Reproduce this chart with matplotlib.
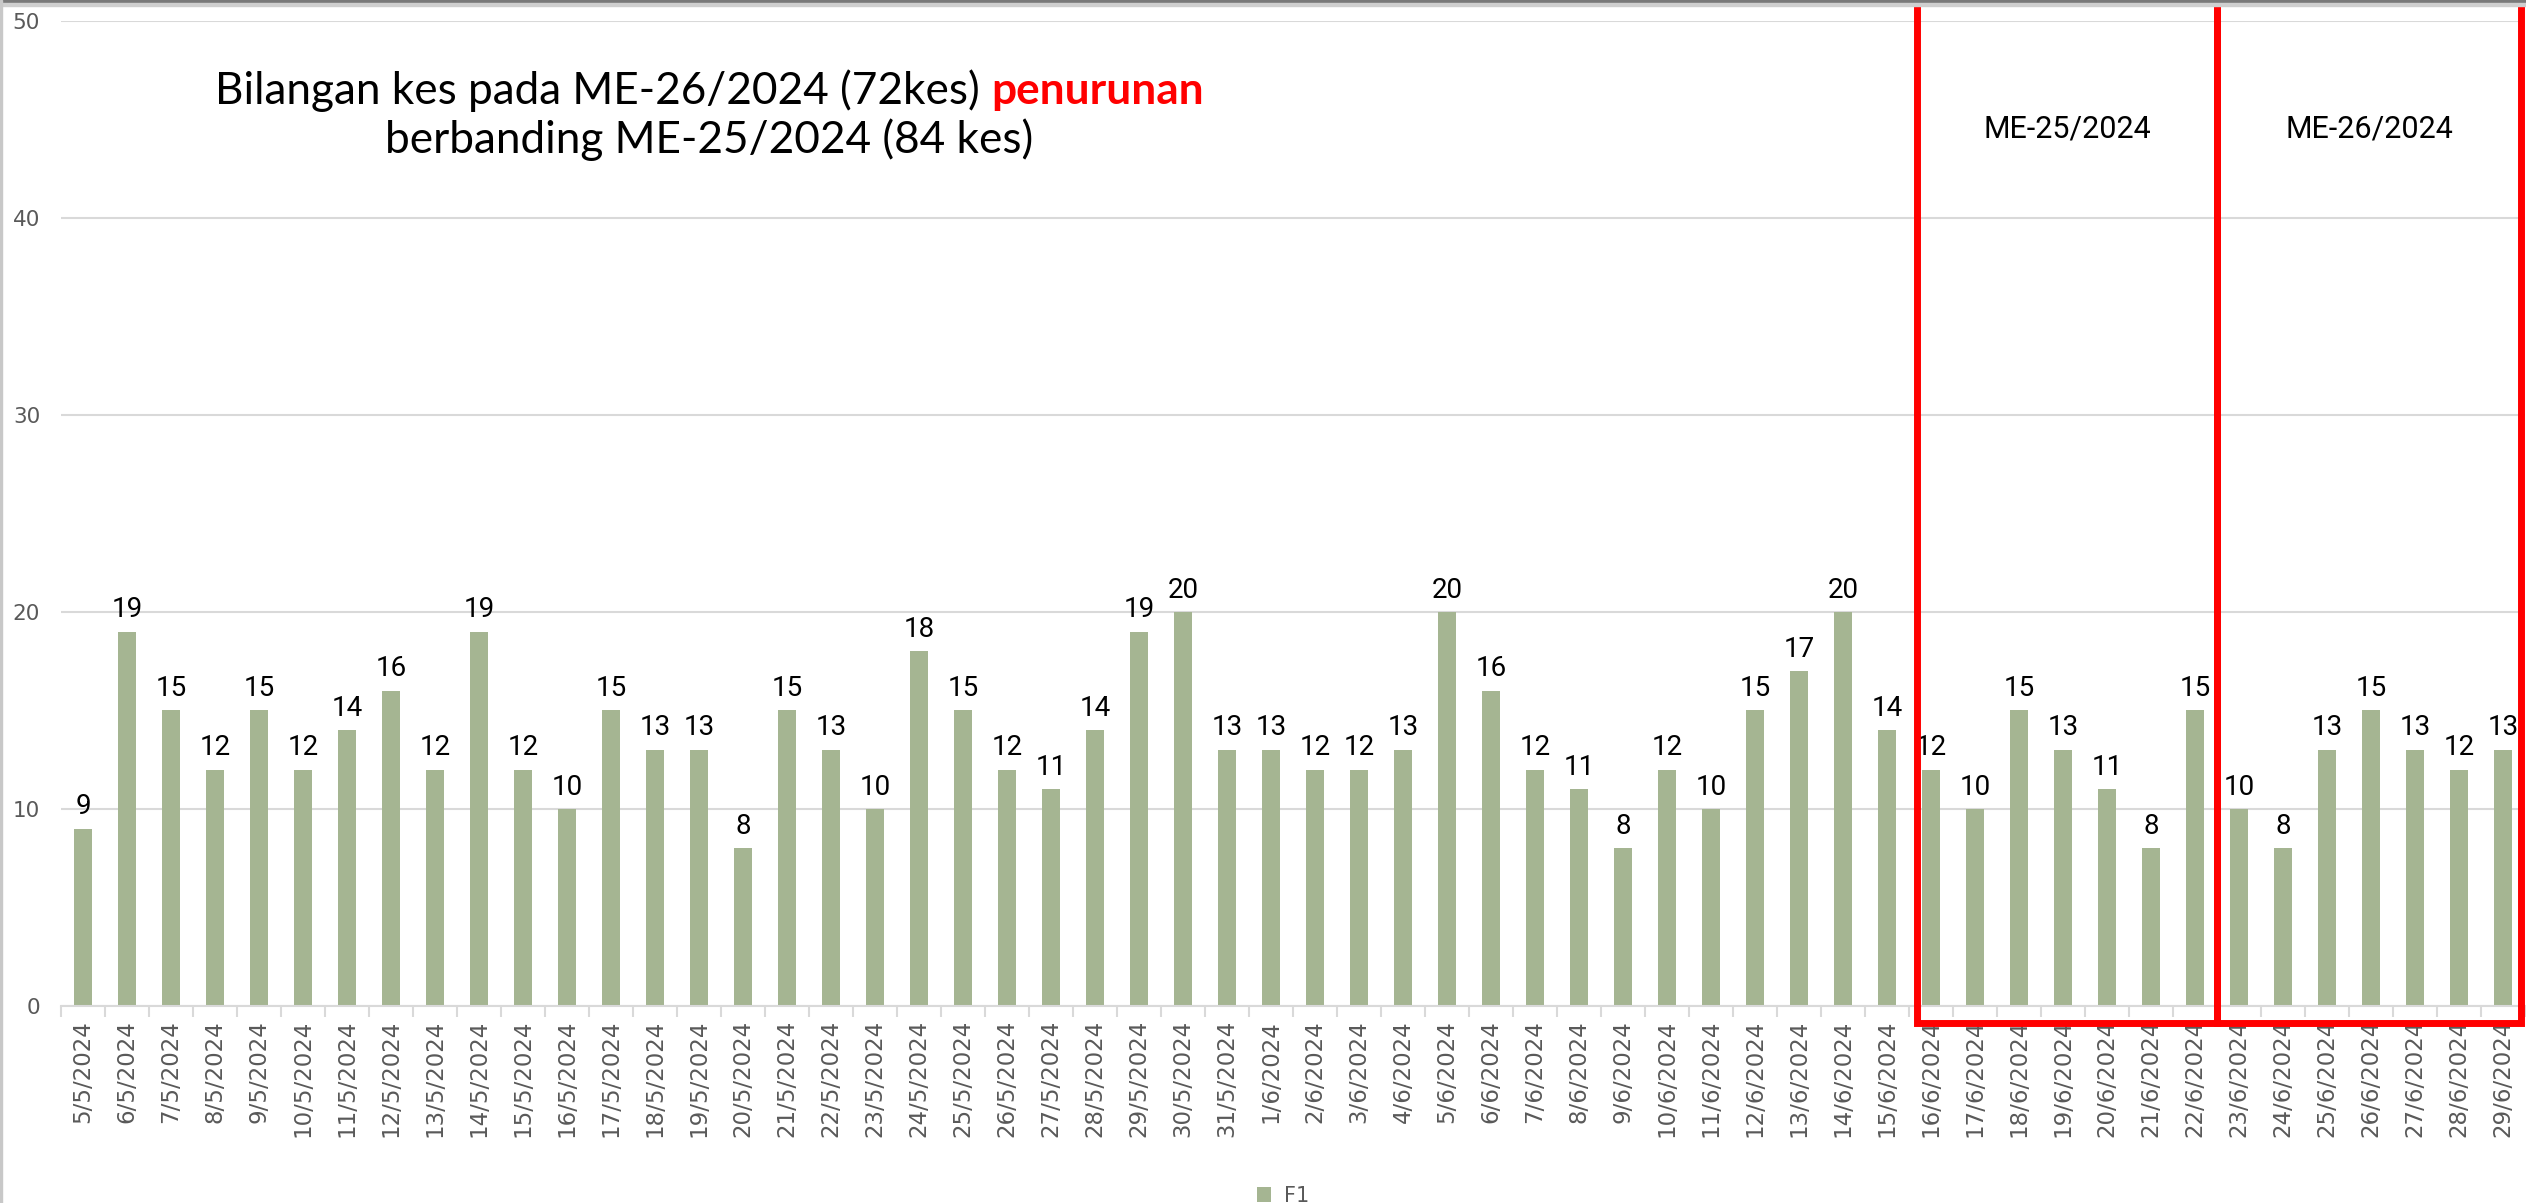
import numpy as np
import matplotlib.pyplot as plt
from matplotlib.patches import Rectangle

W, H = 2526, 1203

# daily case counts
dates = ["5/5/2024", "6/5/2024", "7/5/2024", "8/5/2024", "9/5/2024", "10/5/2024",
         "11/5/2024", "12/5/2024", "13/5/2024", "14/5/2024", "15/5/2024", "16/5/2024",
         "17/5/2024", "18/5/2024", "19/5/2024", "20/5/2024", "21/5/2024", "22/5/2024",
         "23/5/2024", "24/5/2024", "25/5/2024", "26/5/2024", "27/5/2024", "28/5/2024",
         "29/5/2024", "30/5/2024", "31/5/2024", "1/6/2024", "2/6/2024", "3/6/2024",
         "4/6/2024", "5/6/2024", "6/6/2024", "7/6/2024", "8/6/2024", "9/6/2024",
         "10/6/2024", "11/6/2024", "12/6/2024", "13/6/2024", "14/6/2024", "15/6/2024",
         "16/6/2024", "17/6/2024", "18/6/2024", "19/6/2024", "20/6/2024", "21/6/2024",
         "22/6/2024", "23/6/2024", "24/6/2024", "25/6/2024", "26/6/2024", "27/6/2024",
         "28/6/2024", "29/6/2024"]
cases = [9, 19, 15, 12, 15, 12, 14, 16, 12, 19, 12, 10, 15, 13, 13, 8, 15, 13,
         10, 18, 15, 12, 11, 14, 19, 20, 13, 13, 12, 12, 13, 20, 16, 12, 11, 8,
         12, 10, 15, 17, 20, 14, 12, 10, 15, 13, 11, 8, 15, 10, 8, 13, 15, 13,
         12, 13]
series_name = "F1"

week_names = ["ME-25/2024", "ME-26/2024"]
week_first = ["16/6/2024", "23/6/2024"]
week_last = ["22/6/2024", "29/6/2024"]

title_black = "Bilangan kes pada ME-26/2024 (72kes)"
title_red = "penurunan"
title_line2 = "berbanding ME-25/2024 (84 kes)"

grey_txt = '#595959'
grid_col = '#d9d9d9'
bar_col = '#a5b592'

fig = plt.figure(figsize=(W / 100, H / 100), dpi=100)
ax = fig.add_axes([61 / W, 197 / H, (2525 - 61) / W, (1006 - 20.7) / H])

x = np.arange(len(dates))
bars = ax.bar(x, cases, width=0.42, color=bar_col, label=series_name, zorder=2)
ax.bar_label(bars, padding=6, fontsize=20, family='Roboto', color='black')

ax.set_xlim(-0.5, len(dates) - 0.5)
ax.set_ylim(0, 50)
ax.set_yticks(range(0, 51, 10))
ax.yaxis.grid(True, color=grid_col, lw=1.5, zorder=0)
for s in ['left', 'right', 'top']:
    ax.spines[s].set_visible(False)
ax.spines['bottom'].set_color(grid_col)
ax.spines['bottom'].set_linewidth(1.5)
ax.tick_params(axis='y', length=0, pad=15, labelsize=15.5, labelcolor=grey_txt)

ax.set_xticks(x)
ax.set_xticklabels(dates, rotation=90, fontsize=16.5, color=grey_txt)
ax.set_xticks(np.arange(-0.5, len(dates), 1), minor=True)
ax.tick_params(axis='x', which='major', length=0, pad=10)
ax.tick_params(axis='x', which='minor', length=8, width=1.5, color=grid_col)

# red boxes around the two epidemiological weeks
for name, a, b in zip(week_names, week_first, week_last):
    i0, i1 = dates.index(a), dates.index(b)
    left = i0 - 0.32 if i0 == dates.index(week_first[0]) else i0 - 0.5
    right = i1 + 0.5 if i1 != len(dates) - 1 else i1 + 0.41
    ax.add_patch(Rectangle((left, -0.86), right - left, 51.76, fill=False,
                           edgecolor='red', lw=5, clip_on=False, zorder=5))
    ax.text((left + right) / 2, 44.5, name, ha='center', va='center',
            fontsize=22, family='Roboto', color='black')

# title, two lines, one word in red
fs = 31.8
t1 = fig.text(0, 1 - 104 / H, title_black, fontsize=fs, family='Lato', color='black')
t2 = fig.text(0, 1 - 104 / H, title_red, fontsize=fs, family='Lato', weight='bold', color='red')
fig.text(709 / W, 1 - 153 / H, title_line2, fontsize=fs, family='Lato', ha='center', color='black')
fig.canvas.draw()
r = fig.canvas.get_renderer()
w1 = t1.get_window_extent(r).width
w2 = t2.get_window_extent(r).width
gap = fs * 100 / 72 * 0.26
start = 709 - (w1 + gap + w2) / 2
t1.set_x(start / W)
t2.set_x((start + w1 + gap) / W)

fig.legend(handles=[bars], labels=[series_name], loc='center', frameon=False,
           bbox_to_anchor=(1283 / W, 1 - 1196 / H), fontsize=15, labelcolor=grey_txt,
           handlelength=0.7, handleheight=0.7, handletextpad=0.6)

# screenshot edges
fig.patches.append(Rectangle((0, 1 - 3 / H), 1, 3 / H, transform=fig.transFigure,
                             color='#7a7a7a', zorder=10))
fig.patches.append(Rectangle((0, 1 - 6 / H), 1, 3 / H, transform=fig.transFigure,
                             color='#cfcfcf', zorder=10))
fig.patches.append(Rectangle((0, 0), 2 / W, 1, transform=fig.transFigure,
                             color='#c8c8c8', zorder=10))

fig.savefig('out.png', dpi=100)
